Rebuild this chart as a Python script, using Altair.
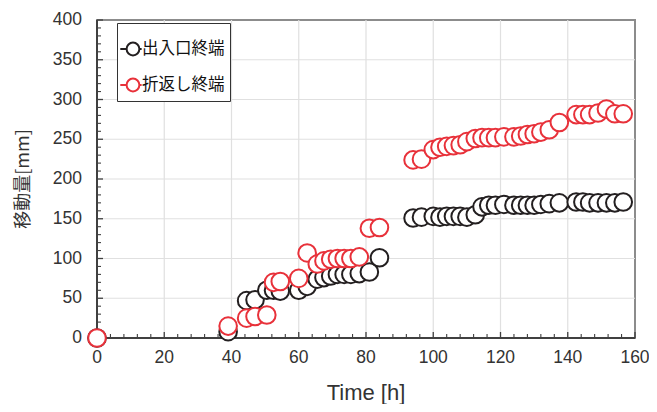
import altair as alt
import pandas as pd

series_names = ["出入口終端", "折返し終端"]
series_colors = ["#231f20", "#e8313a"]

time_h = [0, 39, 44.5, 47, 50.5, 52.5, 54.5, 60, 62.5, 65.5, 67.5, 69.5, 71.5, 73.5, 75.5, 78, 81, 84,
          94, 96.5, 100, 102, 104, 106, 108, 110, 112.5, 114.5, 116.5, 118.5, 121, 124, 126, 128, 130,
          132, 134.5, 137.5, 142.5, 144.5, 146.5, 149, 151.5, 154, 156.5]

exit_end = [0, 8, 47, 48, 60, 60, 59, 60, 65, 74, 76, 78, 80, 80, 80, 81, 83, 101,
            151, 152, 153, 152, 153, 153, 153, 152, 155, 165, 167, 167, 168, 167, 167, 167, 167,
            168, 169, 170, 171, 171, 170, 170, 170, 170, 171]

turn_end = [0, 15, 25, 27, 29, 70, 71, 75, 107, 93, 97, 99, 100, 100, 100, 102, 138, 139,
            224, 225, 237, 240, 241, 242, 243, 247, 251, 252, 252, 252, 253, 253, 254, 256, 257,
            259, 262, 271, 281, 281, 281, 283, 288, 282, 282]

x_major = list(range(0, 161, 20))
x_minor = [v for v in range(0, 161, 4) if v % 20 != 0]
y_major = list(range(0, 401, 50))
y_minor = [v for v in range(0, 401, 10) if v % 50 != 0]
x_title = ["Time [h]"]
y_title = ["移動量[mm]"]

W, H = 538, 318
axis_color = "#404040"
grid_color = "#e0e0e0"
label_color = "#333333"

df = pd.DataFrame({
    "t": time_h + time_h,
    "v": exit_end + turn_end,
    "s": [series_names[0]] * len(time_h) + [series_names[1]] * len(time_h),
})

xscale = alt.Scale(domain=[0, 160], nice=False, zero=False)
yscale = alt.Scale(domain=[0, 400], nice=False)

# custom legend symbol: short line + circle (unit coords scaled by sqrt(size)/2)
cx, r = 0.11, 0.71
legend_path = (f"M{cx - r - 0.7:.2f},0H{cx - r:.2f}"
               f"M{cx + r:.2f},0A{r},{r} 0 1,1 {cx - r:.2f},0A{r},{r} 0 1,1 {cx + r:.2f},0"
               f"M{cx + r:.2f},0H{cx + r + 0.25:.2f}")

points = alt.Chart(df).mark_point(
    shape="circle", filled=False, fill="white", fillOpacity=1, opacity=1,
    size=310, strokeWidth=2
).encode(
    x=alt.X("t:Q", scale=xscale, axis=None),
    y=alt.Y("v:Q", scale=yscale, axis=None),
    color=alt.Color("s:N", sort=series_names,
                    scale=alt.Scale(domain=series_names, range=series_colors),
                    legend=alt.Legend(title=" ", titleFontSize=6, titlePadding=5,
                                      orient="none", legendX=20, legendY=3,
                                      fillColor="white", strokeColor="#333333",
                                      padding=5, rowPadding=14,
                                      symbolSize=324, symbolType=legend_path,
                                      symbolStrokeWidth=2, symbolFillColor="white",
                                      labelOffset=0, labelFont="Noto Sans CJK JP",
                                      labelFontSize=16.5, labelColor="#111111")),
)

# grid lines (ticks spanning the plot)
grid_x = alt.Chart(pd.DataFrame({"t": x_major[1:-1]})).mark_tick(
    color=grid_color, thickness=1.2, size=H, opacity=1, orient="vertical").encode(
    x=alt.X("t:Q", scale=xscale, axis=None), y=alt.value(H / 2))
grid_y = alt.Chart(pd.DataFrame({"v": y_major[1:-1]})).mark_tick(
    color=grid_color, thickness=1.2, size=W, opacity=1, orient="horizontal").encode(
    y=alt.Y("v:Q", scale=yscale, axis=None), x=alt.value(W / 2))

# inward ticks
ytick_major = alt.Chart(pd.DataFrame({"v": y_major})).mark_tick(
    color=axis_color, thickness=1.3, size=6, opacity=1, orient="horizontal").encode(
    y=alt.Y("v:Q", scale=yscale, axis=None), x=alt.value(3))
ytick_minor = alt.Chart(pd.DataFrame({"v": y_minor})).mark_tick(
    color=axis_color, thickness=1.1, size=4, opacity=1, orient="horizontal").encode(
    y=alt.Y("v:Q", scale=yscale, axis=None), x=alt.value(2))
xtick_major = alt.Chart(pd.DataFrame({"t": x_major})).mark_tick(
    color=axis_color, thickness=1.3, size=6, opacity=1, orient="vertical").encode(
    x=alt.X("t:Q", scale=xscale, axis=None), y=alt.value(H - 3))
xtick_minor = alt.Chart(pd.DataFrame({"t": x_minor})).mark_tick(
    color=axis_color, thickness=1.1, size=4, opacity=1, orient="vertical").encode(
    x=alt.X("t:Q", scale=xscale, axis=None), y=alt.value(H - 2))

# axis lines (left and bottom)
y_domain = alt.Chart(pd.DataFrame({"v": [0]})).mark_rule(
    color=axis_color, strokeWidth=2).encode(
    x=alt.value(0), y=alt.value(0), y2=alt.value(H))
x_domain = alt.Chart(pd.DataFrame({"v": [0]})).mark_rule(
    color=axis_color, strokeWidth=2).encode(
    y=alt.value(H), x=alt.value(0), x2=alt.value(W))

# tick labels
x_labels = alt.Chart(pd.DataFrame({"t": x_major, "lab": [str(v) for v in x_major]})).mark_text(
    font="Liberation Sans", fontSize=17.5, color=label_color, align="center", baseline="top"
).encode(x=alt.X("t:Q", scale=xscale, axis=None), y=alt.value(H + 11), text="lab:N")
y_labels = alt.Chart(pd.DataFrame({"v": y_major, "lab": [str(v) for v in y_major]})).mark_text(
    font="Liberation Sans", fontSize=17.5, color=label_color, align="right", baseline="middle"
).encode(y=alt.Y("v:Q", scale=yscale, axis=None), x=alt.value(-15), text="lab:N")

# axis titles
x_title_mark = alt.Chart(pd.DataFrame({"lab": x_title})).mark_text(
    font="Liberation Sans", fontSize=22, color=label_color, align="center", baseline="alphabetic"
).encode(x=alt.value(W / 2), y=alt.value(H + 62), text="lab:N")
y_title_mark = alt.Chart(pd.DataFrame({"lab": y_title})).mark_text(
    font="Noto Sans CJK JP", fontSize=18, color=label_color, align="center", baseline="middle",
    angle=270
).encode(x=alt.value(-73), y=alt.value(H / 2), text="lab:N")

chart = alt.layer(
    grid_x, grid_y, ytick_minor, ytick_major, xtick_minor, xtick_major,
    y_domain, x_domain, x_labels, y_labels, x_title_mark, y_title_mark, points
).properties(
    width=W, height=H,
    autosize=alt.AutoSizeParams(type="none"),
    padding={"left": 89, "top": 12, "right": 14, "bottom": 66},
).configure_view(
    stroke="#8c8c8c", strokeWidth=2
)

chart.save("out.html", embed_options={"renderer": "svg", "actions": False})
